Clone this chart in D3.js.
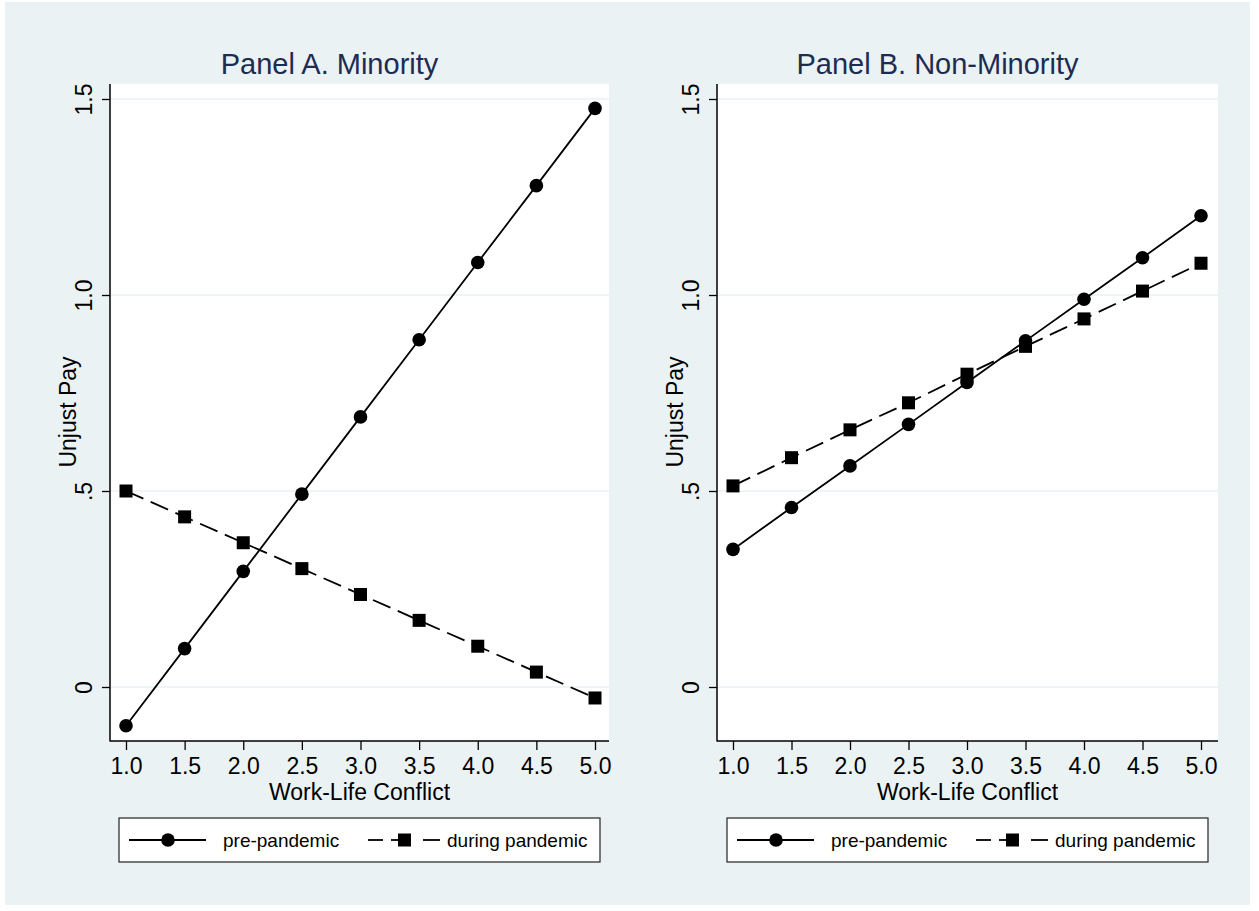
<!DOCTYPE html>
<html>
<head>
<meta charset="utf-8">
<script src="https://cdn.jsdelivr.net/npm/d3@7"></script>
<style>
  html, body { margin: 0; padding: 0; background: #ffffff; }
  svg { display: block; }
  text { font-family: "Liberation Sans", Arial, Helvetica, sans-serif; }
</style>
</head>
<body>
<svg id="chart" width="1259" height="911"></svg>
<script>
// Work-life conflict levels on the x axis
const conflictLevels = [1.0, 1.5, 2.0, 2.5, 3.0, 3.5, 4.0, 4.5, 5.0];
const xTickLabels = ["1.0", "1.5", "2.0", "2.5", "3.0", "3.5", "4.0", "4.5", "5.0"];

// Predicted unjust pay, Panel A (minority)
const minorityPre    = [-0.099, 0.098, 0.295, 0.492, 0.689, 0.886, 1.083, 1.279, 1.476];
const minorityDuring = [0.500, 0.434, 0.368, 0.302, 0.236, 0.170, 0.104, 0.038, -0.028];

// Predicted unjust pay, Panel B (non-minority)
const nonMinorityPre    = [0.351, 0.458, 0.564, 0.670, 0.777, 0.883, 0.989, 1.095, 1.202];
const nonMinorityDuring = [0.513, 0.585, 0.656, 0.725, 0.798, 0.869, 0.939, 1.010, 1.081];

const yTicks = [0, 0.5, 1.0, 1.5];
const yTickLabels = ["0", ".5", "1.0", "1.5"];

const panelTitles = ["Panel A. Minority", "Panel B. Non-Minority"];
const seriesNames = ["pre-pandemic", "during pandemic"];
const xAxisTitle = "Work-Life Conflict";
const yAxisTitle = "Unjust Pay";

const panels = [
  { title: panelTitles[0], pre: minorityPre, during: minorityDuring, left: 110, right: 609, x1: 126, x5: 595, legendLeft: 119 },
  { title: panelTitles[1], pre: nonMinorityPre, during: nonMinorityDuring, left: 717, right: 1218, x1: 733, x5: 1201, legendLeft: 727 }
];

const svg = d3.select("#chart");
const titleColor = "#1c2c52";
const bgColor = "#eaf2f3";

// Graph region
svg.append("rect").attr("x", 5).attr("y", 2).attr("width", 1245).attr("height", 903).attr("fill", bgColor);

const plotTop = 84, plotBottom = 741;
// 0 -> 687 px, 1.5 -> 99 px
const yScale = d3.scaleLinear().domain([0, 1.5]).range([687, 99]);

const dashPattern = "19,8";

panels.forEach(p => {
  const g = svg.append("g");
  const xScale = d3.scaleLinear().domain([1, 5]).range([p.x1, p.x5]);
  const cx = (p.left + p.right) / 2;

  // Plot region
  g.append("rect")
    .attr("x", p.left).attr("y", plotTop)
    .attr("width", p.right - p.left).attr("height", plotBottom - plotTop)
    .attr("fill", "#ffffff");

  // Horizontal grid lines
  g.selectAll(".grid").data(yTicks).enter().append("line")
    .attr("x1", p.left).attr("x2", p.right)
    .attr("y1", d => yScale(d)).attr("y2", d => yScale(d))
    .attr("stroke", bgColor).attr("stroke-width", 1.6);

  // Y axis
  const yAxis = d3.axisLeft(yScale).tickValues(yTicks)
    .tickFormat((d, i) => yTickLabels[i]).tickSize(8).tickPadding(4);
  const yG = g.append("g").attr("transform", `translate(${p.left},0)`).call(yAxis);
  yG.select(".domain").remove();
  yG.selectAll(".tick line").attr("stroke", "#000").attr("stroke-width", 1.3);
  yG.selectAll(".tick text")
    .attr("x", null).attr("dy", null)
    .attr("text-anchor", "middle")
    .attr("transform", "translate(-18,0) rotate(-90)")
    .attr("font-size", 23).attr("fill", "#000")
    .style("font-family", "'Liberation Sans', Arial, sans-serif");
  g.append("line").attr("x1", p.left).attr("x2", p.left)
    .attr("y1", plotTop).attr("y2", plotBottom + 0.5)
    .attr("stroke", "#000").attr("stroke-width", 1.5);

  // X axis
  const xAxis = d3.axisBottom(xScale).tickValues(conflictLevels)
    .tickFormat((d, i) => xTickLabels[i]).tickSize(9).tickPadding(6);
  const xG = g.append("g").attr("transform", `translate(0,${plotBottom})`).call(xAxis);
  xG.select(".domain").remove();
  xG.selectAll(".tick line").attr("stroke", "#000").attr("stroke-width", 1.3);
  xG.selectAll(".tick text")
    .attr("y", 33).attr("dy", null)
    .attr("font-size", 23).attr("fill", "#000")
    .style("font-family", "'Liberation Sans', Arial, sans-serif");
  g.append("line").attr("x1", p.left).attr("x2", p.right)
    .attr("y1", plotBottom).attr("y2", plotBottom)
    .attr("stroke", "#000").attr("stroke-width", 1.5);

  // Titles (panel title is centred over the whole panel, axis label area included)
  g.append("text").attr("x", cx - 30).attr("y", 74).attr("text-anchor", "middle")
    .attr("font-size", 29).attr("fill", titleColor).text(p.title);
  g.append("text").attr("x", cx).attr("y", 800).attr("text-anchor", "middle")
    .attr("font-size", 23).attr("fill", "#000").text(xAxisTitle);
  g.append("text")
    .attr("transform", `translate(${p.left - 34},412) rotate(-90)`)
    .attr("text-anchor", "middle")
    .attr("font-size", 23).attr("fill", "#000").text(yAxisTitle);

  // Series lines
  const line = d3.line().x((d, i) => xScale(conflictLevels[i])).y(d => yScale(d));
  g.append("path").datum(p.during).attr("d", line)
    .attr("fill", "none").attr("stroke", "#000").attr("stroke-width", 1.8)
    .attr("stroke-dasharray", dashPattern);
  g.append("path").datum(p.pre).attr("d", line)
    .attr("fill", "none").attr("stroke", "#000").attr("stroke-width", 1.8);

  // Markers
  g.selectAll(".sq").data(p.during).enter().append("rect")
    .attr("x", (d, i) => xScale(conflictLevels[i]) - 6.5)
    .attr("y", d => yScale(d) - 6.5)
    .attr("width", 13).attr("height", 13).attr("fill", "#000");
  g.selectAll(".dot").data(p.pre).enter().append("circle")
    .attr("cx", (d, i) => xScale(conflictLevels[i]))
    .attr("cy", d => yScale(d))
    .attr("r", 6.8).attr("fill", "#000");

  // Legend
  const L = p.legendLeft, lt = 818, lh = 44, lw = 481, ly = lt + lh / 2;
  const lg = g.append("g");
  lg.append("rect").attr("x", L).attr("y", lt).attr("width", lw).attr("height", lh)
    .attr("fill", "#ffffff").attr("stroke", "#333").attr("stroke-width", 1.3);
  lg.append("line").attr("x1", L + 10).attr("x2", L + 87).attr("y1", ly).attr("y2", ly)
    .attr("stroke", "#000").attr("stroke-width", 1.8);
  lg.append("circle").attr("cx", L + 49).attr("cy", ly).attr("r", 6.8).attr("fill", "#000");
  lg.append("text").attr("x", L + 104).attr("y", ly + 7).attr("font-size", 19)
    .attr("fill", "#000").text(seriesNames[0]);
  lg.append("line").attr("x1", L + 249).attr("x2", L + 264).attr("y1", ly).attr("y2", ly)
    .attr("stroke", "#000").attr("stroke-width", 1.8);
  lg.append("line").attr("x1", L + 272).attr("x2", L + 280).attr("y1", ly).attr("y2", ly)
    .attr("stroke", "#000").attr("stroke-width", 1.8);
  lg.append("rect").attr("x", L + 279).attr("y", ly - 6.5).attr("width", 13).attr("height", 13).attr("fill", "#000");
  lg.append("line").attr("x1", L + 304).attr("x2", L + 321).attr("y1", ly).attr("y2", ly)
    .attr("stroke", "#000").attr("stroke-width", 1.8);
  lg.append("text").attr("x", L + 328).attr("y", ly + 7).attr("font-size", 19)
    .attr("fill", "#000").text(seriesNames[1]);
});
</script>
</body>
</html>
